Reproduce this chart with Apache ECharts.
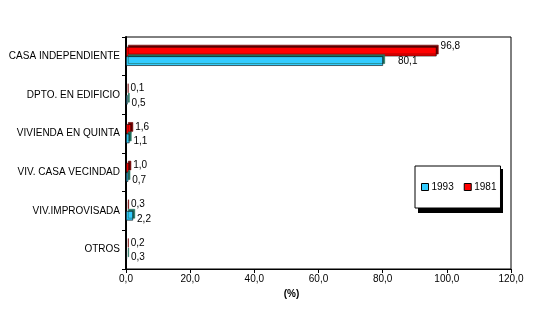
<!DOCTYPE html>
<html>
<head>
<meta charset="utf-8">
<script src="https://cdn.jsdelivr.net/npm/echarts@6/dist/echarts.min.js"></script>
<style>
html,body{margin:0;padding:0;background:#fff;}
#c{width:534px;height:326px;}
</style>
</head>
<body>
<div id="c"></div>
<script>
var categories = ['CASA INDEPENDIENTE','DPTO. EN EDIFICIO','VIVIENDA EN QUINTA','VIV. CASA VECINDAD','VIV.IMPROVISADA','OTROS'];
var values1981 = [96.8, 0.1, 1.6, 1.0, 0.3, 0.2];
var values1993 = [80.1, 0.5, 1.1, 0.7, 2.2, 0.3];
var xTicks = {min: 0, max: 120, interval: 20};

function fmt(v){ return Number(v).toFixed(1).replace('.', ','); }

var chart = echarts.init(document.getElementById('c'), null, {renderer: 'canvas'});
var font = 'Liberation Sans, Arial, sans-serif';

var data1993 = values1993.map(function(v, i){
  var d = {value: v};
  if (i === 0) d.label = {distance: 15, offset: [0, 0]};
  return d;
});
var data1981 = values1981.map(function(v, i){
  var d = {value: v};
  if (i === 0) d.label = {offset: [0, -5]};
  return d;
});

chart.setOption({
  animation: false,
  backgroundColor: '#fff',
  textStyle: {fontFamily: font},
  grid: {left: 126, right: 23, top: 37, bottom: 57, show: true, borderColor: '#000', borderWidth: 1, backgroundColor: 'transparent'},
  graphic: [{
    type: 'rect', left: 418, top: 169, z: 1,
    shape: {width: 85, height: 44},
    style: {fill: '#000'}
  }],
  legend: {
    left: 415, top: 166, width: 85, height: 44, z: 10,
    data: ['1993', '1981'],
    orient: 'horizontal',
    icon: 'rect',
    itemWidth: 7, itemHeight: 7, itemGap: 10,
    padding: [16, 4, 16, 6],
    borderColor: '#000', borderWidth: 1,
    backgroundColor: '#fff',
    itemStyle: {borderColor: '#000', borderWidth: 1, shadowColor: 'rgba(0,0,0,0)', shadowOffsetX: 0, shadowOffsetY: 0},
    textStyle: {fontSize: 10, color: '#000', fontFamily: font, padding: [0, 0, 0, -2]}
  },
  xAxis: {
    type: 'value', min: xTicks.min, max: xTicks.max, interval: xTicks.interval,
    name: '(%)', nameLocation: 'middle', nameGap: 18,
    nameTextStyle: {fontSize: 10, fontWeight: 'bold', color: '#000', fontFamily: font, padding: [0, 54, 0, 0]},
    axisLine: {show: true, lineStyle: {color: '#000', width: 1}},
    axisTick: {show: true, length: 4, lineStyle: {color: '#000'}},
    axisLabel: {fontSize: 10, color: '#000', margin: 5, formatter: fmt, fontFamily: font},
    splitLine: {show: false}
  },
  yAxis: {
    type: 'category', data: categories, inverse: true,
    axisLine: {show: true, lineStyle: {color: '#000', width: 2}},
    axisTick: {show: true, length: 4, lineStyle: {color: '#000'}},
    axisLabel: {fontSize: 10, color: '#000', margin: 6, fontFamily: font},
    splitLine: {show: false}
  },
  series: [
    {
      name: '1981', type: 'bar', data: data1981,
      barWidth: 9.5, barGap: '0%',
      itemStyle: {color: '#ff0000', borderColor: '#000', borderWidth: 0.6, shadowColor: '#700000', shadowBlur: 0, shadowOffsetX: 2, shadowOffsetY: -2},
      label: {show: true, position: 'right', distance: 4, offset: [0, -2], fontSize: 10, color: '#000', formatter: function(p){return fmt(p.value);}, fontFamily: font}
    },
    {
      name: '1993', type: 'bar', data: data1993,
      barWidth: 9.5, barGap: '0%',
      itemStyle: {color: '#33ccff', borderColor: '#000', borderWidth: 0.6, shadowColor: '#1f6f5a', shadowBlur: 0, shadowOffsetX: 2, shadowOffsetY: -2},
      label: {show: true, position: 'right', distance: 4, offset: [0, 3], fontSize: 10, color: '#000', formatter: function(p){return fmt(p.value);}, fontFamily: font}
    }
  ]
});
</script>
</body>
</html>
